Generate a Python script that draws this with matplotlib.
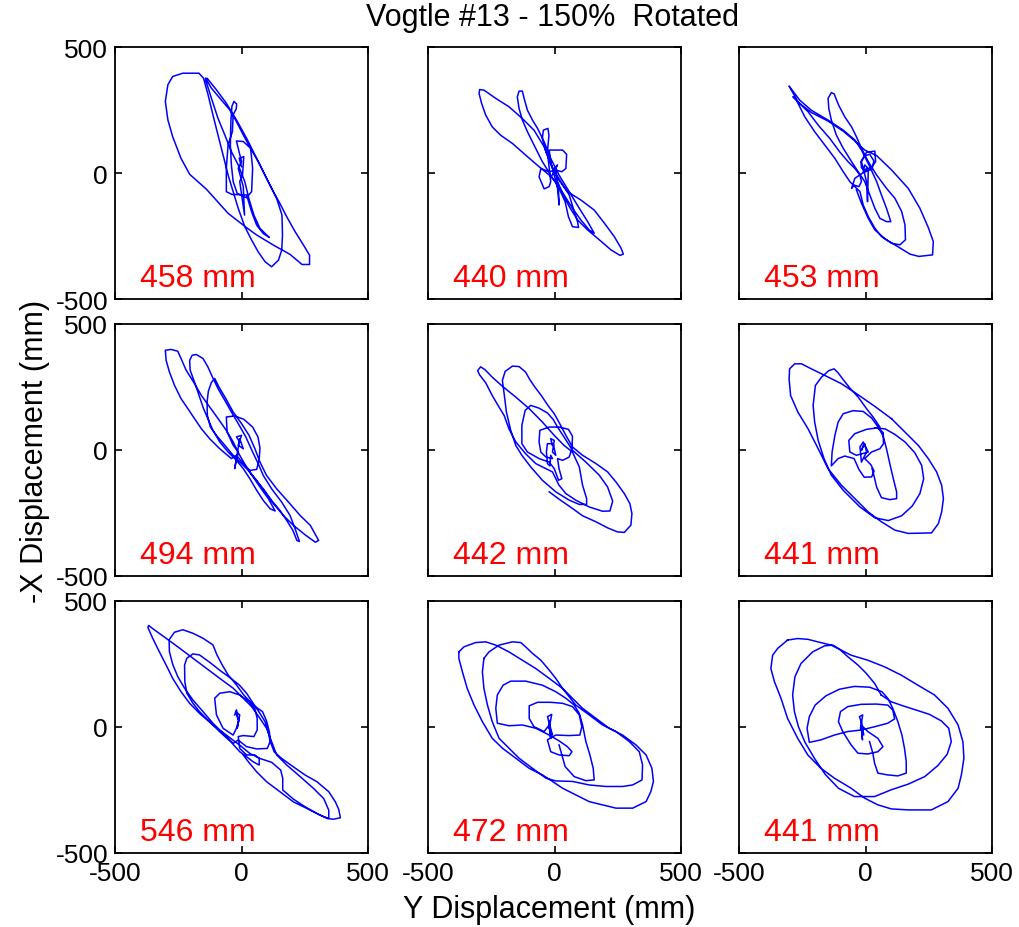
import numpy as np
import matplotlib.pyplot as plt

plt.rcParams['font.family'] = ['Liberation Sans', 'DejaVu Sans']
plt.rcParams['axes.unicode_minus'] = False

nan = float('nan')

# orbit traces, (Y, -X) displacement in mm; (nan, nan) lifts the pen
orbit1 = [(0, 25), (-9, 58), (9, 65), (4, -8), (-7, -34), (12, -167), (7, -54), (-13, 19), (0, 45),
          (-20, 127), (7, 125), (36, 98), (44, 19), (40, -74), (20, -98), (-17, -81), (-33, -34),
          (-40, 32), (-44, 111), (-42, 204), (-38, 264), (-30, 284), (-19, 274), (-21, 254),
          (-33, 231), (-36, 164), (-53, 111), (-60, 19), (-60, -74), (-38, -85), (20, -87),
          (40, -154), (60, -207), (86, -240), (110, -256), (73, -220), (49, -167), (29, -101),
          (13, -34), (-13, 32), (-40, 85), (-66, 151), (-93, 217), (-119, 297), (-142, 370),
          (-136, 376), (-99, 330), (-60, 277), (-20, 211), (20, 138), (60, 58), (99, -21),
          (139, -101), (160, -167), (162, -246), (159, -306), (146, -346), (119, -372), (93, -352),
          (66, -313), (40, -266), (13, -213), (-13, -140), (-33, -74), (-53, -8), (-73, 72),
          (-93, 151), (-113, 231), (-132, 310), (-150, 376), (-168, 396), (-232, 396), (-272, 383),
          (-291, 350), (-301, 284), (-291, 211), (-272, 144), (-239, 58), (-205, -5), (-139, -64),
          (-53, -160), (20, -217), (60, -246), (126, -286), (192, -323), (239, -363), (269, -363),
          (269, -326), (245, -286), (212, -233), (179, -174), (152, -121), (126, -74), (99, -21),
          (70, 38), (40, 91), (7, 151), (-20, 204), (-46, 250), (-80, 290), (-119, 337), (-142, 376)]

orbit2 = [(-1, 18), (12, 32), (-8, -8), (5, 25), (18, -127), (16, -74), (-1, -8), (-15, 45),
          (-21, 91), (32, 91), (48, 74), (45, 18), (29, 5), (5, 12), (-21, 5), (-54, 18), (-61, -15),
          (-41, -63), (-21, -54), (-15, -34), (-28, 84), (-22, 150), (-26, 177), (-44, 170),
          (-48, 137), (-34, 84), (-8, 18), (25, -34), (58, -87), (78, -153), (91, -193), (95, -216),
          (71, -213), (55, -173), (42, -114), (18, -61), (-15, -8), (-48, 45), (-81, 111),
          (-107, 164), (-127, 210), (-140, 256), (-147, 302), (-140, 325), (-127, 325), (-120, 296),
          (-107, 249), (-87, 210), (-67, 177), (-41, 124), (-15, 58), (18, -8), (58, -74),
          (98, -140), (131, -193), (157, -239), (137, -226), (104, -186), (71, -140), (38, -87),
          (5, -34), (-21, -8), (-61, 25), (-114, 71), (-166, 117), (-213, 150), (-246, 183),
          (-272, 230), (-288, 276), (-298, 315), (-296, 331), (-279, 329), (-232, 296), (-180, 263),
          (-127, 216), (-81, 170), (-41, 104), (-15, 38), (12, -21), (51, -74), (104, -107),
          (157, -147), (197, -199), (236, -252), (263, -298), (272, -322), (259, -327), (223, -305),
          (177, -265), (131, -226), (91, -186), (58, -133), (32, -81), (12, -34)]

orbit3 = [(4, 18), (-9, 5), (-3, 32), (11, 18), (8, -114), (4, -34), (-9, 18), (-16, 45), (-3, 69),
          (17, 74), (33, 48), (26, 16), (0, 5), (-16, 21), (-18, 45), (4, 82), (37, 87), (40, 45),
          (26, 25), (-42, -21), (-55, -61), (-45, -48), (-26, -54), (-16, -34), (-22, -8), (-42, 18),
          (-69, 45), (-102, 84), (-141, 137), (-187, 190), (-227, 243), (-267, 282), (-298, 338),
          (-302, 345), (-293, 333), (-260, 289), (-214, 249), (-148, 210), (-88, 170), (-42, 131),
          (-16, 91), (17, 25), (44, -34), (63, -87), (83, -140), (100, -193), (83, -193), (57, -180),
          (37, -140), (17, -87), (-3, -34), (-29, 5), (-55, 45), (-88, 98), (-115, 150), (-135, 210),
          (-145, 256), (-148, 296), (-135, 319), (-124, 314), (-106, 269), (-82, 223), (-55, 183),
          (-36, 144), (-16, 98), (11, 45), (44, -8), (83, -61), (116, -100), (143, -153), (156, -206),
          (158, -265), (136, -285), (103, -279), (63, -252), (37, -219), (11, -173), (-9, -127),
          (-22, -74), (-62, -34), (-88, 5), (-121, 58), (-161, 111), (-201, 164), (-240, 223),
          (-273, 289), (-286, 302), (-260, 276), (-214, 240), (-148, 206), (-88, 166), (-42, 127),
          (-3, 91), (44, 69), (103, 12), (169, -61), (215, -140), (248, -216), (268, -272),
          (265, -325), (211, -331), (176, -322), (129, -293), (77, -261), (37, -226), (11, -180),
          (-16, -120), (-36, -67)]

orbit4 = [(-7, 32), (-20, 52), (0, 58), (-13, 19), (7, 5), (-7, 45), (-27, -74), (-13, -8), (-33, 19),
          (-57, 72), (-60, 131), (-27, 135), (9, 122), (44, 91), (65, 52), (73, 8), (70, -37),
          (60, -77), (33, -81), (7, -54), (-20, -21), (-40, -34), (-86, 5), (-126, 45), (-159, 85),
          (-186, 125), (-212, 164), (-239, 204), (-265, 257), (-285, 310), (-298, 356), (-301, 396),
          (-278, 399), (-252, 392), (-239, 363), (-219, 317), (-186, 264), (-159, 217), (-126, 171),
          (-93, 125), (-60, 78), (-33, 32), (-7, -21), (20, -68), (46, -107), (73, -147), (106, -193),
          (133, -242), (113, -233), (86, -200), (60, -160), (33, -114), (7, -74), (-20, -41),
          (-53, -8), (-86, 32), (-113, 78), (-133, 125), (-150, 164), (-168, 217), (-186, 270),
          (-203, 317), (-205, 356), (-195, 376), (-179, 379), (-152, 363), (-133, 330), (-115, 290),
          (-93, 244), (-66, 197), (-40, 151), (-13, 105), (17, 52), (44, -8), (66, -54), (86, -101),
          (119, -154), (159, -207), (192, -260), (212, -313), (229, -363), (219, -359), (203, -319),
          (179, -280), (152, -240), (119, -200), (86, -154), (53, -114), (27, -81), (0, -54),
          (-33, -21), (-66, 19), (-99, 58), (-123, 91), (-135, 138), (-136, 191), (-131, 233),
          (-119, 268), (-106, 284), (-89, 250), (-62, 204), (-33, 151), (0, 105), (30, 58), (53, 5),
          (73, -48), (99, -101), (139, -154), (186, -207), (232, -260), (272, -299), (305, -359),
          (292, -366), (252, -337), (205, -299), (166, -260), (126, -213), (93, -167), (60, -121),
          (33, -87)]

orbit5 = [(-8, 18), (-15, 45), (-1, 38), (-8, -8), (5, -21), (-5, 25), (-28, 25), (-32, -8), (-28, -54),
          (-18, -63), (-15, -21), (-8, -34), (-34, -28), (-54, -8), (-61, 32), (-58, 78), (-21, 91),
          (18, 91), (55, 82), (71, 55), (69, 5), (58, -28), (32, -41), (12, -34), (18, -74), (29, -114),
          (16, -120), (-1, -74), (-21, -48), (-61, -34), (-107, -8), (-129, 25), (-129, 98),
          (-116, 157), (-94, 177), (-61, 166), (-28, 147), (-5, 121), (12, 91), (38, 51), (71, -1),
          (124, -48), (177, -100), (210, -147), (230, -203), (219, -242), (190, -243), (137, -226),
          (84, -199), (45, -173), (18, -140), (-8, -87), (-34, -74), (-74, -54), (-114, -15),
          (-153, 32), (-180, 84), (-199, 137), (-219, 170), (-246, 216), (-272, 267), (-296, 298),
          (-304, 315), (-292, 330), (-275, 319), (-246, 289), (-206, 253), (-153, 210), (-100, 164),
          (-48, 111), (-1, 58), (38, 18), (71, -8), (98, -67), (111, -140), (127, -193), (127, -216),
          (98, -216), (58, -199), (5, -166), (-48, -120), (-94, -67), (-129, -21), (-153, 18),
          (-173, 78), (-190, 150), (-199, 223), (-206, 276), (-195, 312), (-166, 333), (-140, 331),
          (-114, 309), (-98, 280), (-77, 249), (-50, 213), (-24, 174), (-1, 144), (21, 104), (45, 58),
          (71, 12), (111, -21), (164, -54), (210, -87), (243, -127), (276, -173), (298, -213),
          (306, -252), (302, -298), (276, -327), (249, -325), (210, -309), (164, -285), (111, -261),
          (71, -232), (18, -195), (-21, -166)]

orbit6 = [(-9, 18), (-16, -1), (-3, 25), (4, -8), (-16, -48), (-22, 12), (-9, 32), (11, -8), (-36, -21),
          (-62, -8), (-66, 38), (-42, 65), (4, 82), (48, 88), (70, 69), (71, 25), (57, 5), (24, -8),
          (-3, -34), (21, -58), (34, -84), (24, -107), (-5, -108), (-26, -77), (-45, -34), (-82, -24),
          (-108, -34), (-135, -63), (-132, -8), (-121, 58), (-108, 111), (-88, 144), (-49, 156),
          (-9, 153), (24, 127), (50, 91), (70, 55), (83, 5), (96, -54), (110, -114), (123, -166),
          (123, -193), (96, -197), (63, -189), (44, -147), (33, -100), (26, -74),
          (nan, nan),
          (57, 91), (30, 131), (4, 164), (-29, 210), (-62, 246), (-88, 279), (-108, 306), (-124, 322),
          (-145, 315), (-174, 289), (-198, 256), (-207, 177), (-201, 111), (-187, 38), (-164, -34),
          (-135, -100), (-88, -160), (-22, -226), (37, -269), (90, -280), (143, -261), (185, -222),
          (215, -173), (230, -114), (222, -61), (195, -11), (156, 32), (116, 62), (77, 84), (37, 87),
          (nan, nan),
          (103, 124), (37, 173), (-29, 219), (-95, 263), (-161, 296), (-214, 322), (-253, 342),
          (-280, 342), (-300, 322), (-302, 282), (-296, 216), (-267, 150), (-227, 84), (-187, 5),
          (-148, -74), (-95, -140), (-42, -193), (11, -246), (63, -285), (116, -318), (169, -331),
          (261, -329), (288, -292), (301, -246), (308, -193), (301, -140), (281, -87), (248, -34),
          (209, 18), (156, 71), (103, 124)]

orbit7 = [(-27, 48), (-20, 68), (-13, 28), (-23, 61), (-7, 48), (-17, -5), (-9, 34), (-20, -5),
          (-33, -32), (-73, -5), (-99, 48), (-106, 114), (-86, 134), (-46, 140), (-7, 127), (30, 101),
          (53, 72), (62, 34), (62, -12), (49, -38), (7, -34), (-13, -38), (-7, -85), (20, -111),
          (53, -111), (70, -125), (70, -151), (46, -138), (20, -118), (-7, -98), (-40, -61),
          (-86, -19), (-126, 21), (-166, 61), (-192, 94), (-216, 134), (-224, 180), (-225, 246),
          (-216, 273), (-192, 290), (-166, 286), (-126, 257), (-83, 223), (-46, 196), (-9, 167),
          (20, 134), (46, 94), (73, 54), (93, 21), (106, -19), (113, -58), (102, -85), (60, -87),
          (20, -78), (-13, -52), (-33, -65), (-73, -25), (-113, 15), (-152, 61), (-192, 107),
          (-225, 154), (-252, 200), (-272, 249), (-285, 299), (-286, 346), (-265, 376), (-232, 386),
          (-192, 372), (-152, 352), (-113, 326), (-97, 286), (-76, 246), (-53, 207), (-20, 167),
          (9, 127), (46, 87), (83, 61), (99, 24), (110, -19), (115, -61), (129, -98), (159, -125),
          (205, -158), (252, -191), (298, -217), (345, -257), (371, -297), (384, -326), (391, -360),
          (364, -366), (338, -363), (298, -343), (252, -317), (205, -286), (163, -250), (163, -204),
          (155, -171), (119, -140), (73, -125), (33, -105), (-7, -72), (-60, -32), (-113, 8),
          (-166, 54), (-205, 94), (-239, 140), (-272, 193), (-298, 246), (-325, 299), (-351, 352),
          (-370, 395), (-367, 403), (-345, 386), (-298, 352), (-245, 313), (-192, 273), (-139, 233),
          (-86, 193), (-33, 154), (7, 114), (40, 81), (73, 34), (99, -5), (119, -58), (139, -111),
          (179, -151), (232, -197), (285, -244), (325, -284), (345, -330), (345, -363), (311, -350),
          (258, -323), (205, -297), (152, -257), (99, -217), (60, -178), (27, -138), (7, -111)]

orbit8 = [(-21, 21), (-28, 41), (-11, 50), (-21, -5), (-8, -32), (-24, 28), (-15, -45), (-21, 8),
          (-41, -18), (-81, 1), (-100, 34), (-100, 84), (-67, 98), (-15, 98), (32, 94), (71, 81),
          (98, 48), (108, 1), (100, -32), (58, -34), (5, -32), (-28, -51), (-15, -98), (18, -111),
          (58, -114), (69, -98), (51, -78), (18, -55), (-21, -32), (-74, -5), (-127, 8), (-180, 5),
          (-226, 15), (-232, 74), (-226, 127), (-203, 166), (-173, 182), (-114, 182), (-48, 166),
          (5, 140), (45, 114), (78, 87), (98, 54), (111, 8), (124, -58), (140, -111), (153, -164),
          (157, -210), (124, -213), (78, -197), (42, -157), (29, -111), (18, -71),
          (nan, nan),
          (-279, 272), (-259, 298), (-219, 325), (-166, 338), (-133, 335), (-114, 318), (-87, 292),
          (-54, 265), (-21, 226), (5, 193), (32, 153), (58, 120), (84, 87), (137, 48), (190, 8),
          (243, -18), (296, -58), (335, -98), (348, -150), (346, -210), (309, -230), (269, -236),
          (203, -236), (137, -230), (71, -216), (5, -214), (-34, -203), (-87, -164), (-140, -124),
          (-180, -84), (-219, -45), (-246, 21), (-265, 87), (-279, 153), (-285, 219), (-279, 272),
          (nan, nan),
          (-378, 298), (-358, 318), (-312, 335), (-272, 338), (-232, 325), (-180, 298), (-127, 265),
          (-74, 232), (-21, 193), (32, 153), (71, 114), (111, 74), (164, 34), (216, -5), (269, -32),
          (322, -71), (362, -111), (385, -164), (391, -216), (381, -256), (362, -296), (309, -322),
          (243, -322), (190, -309), (137, -296), (84, -269), (32, -243), (-8, -216), (-48, -190),
          (-100, -164), (-153, -124), (-206, -84), (-246, -45), (-285, 21), (-318, 87), (-345, 153),
          (-364, 219), (-378, 272), (-378, 298)]

orbit9 = [(-17, 21), (-24, 41), (-11, 48), (-20, -5), (-7, -32), (-17, 28), (-12, -51), (-17, 8),
          (9, -18), (49, -45), (69, -78), (49, -98), (9, -107), (-30, -104), (-57, -71), (-90, -18),
          (-107, 21), (-99, 61), (-70, 81), (-17, 90), (42, 91), (88, 87), (108, 67), (115, 32),
          (88, 15), (36, 1), (-17, -12), (-70, -18), (-123, -32), (-176, -51), (-222, -61),
          (-231, -5), (-222, 41), (-199, 87), (-156, 124), (-103, 150), (-44, 161), (16, 158),
          (65, 140), (88, 114), (108, 74), (128, 21), (144, -32), (154, -84), (161, -137),
          (161, -183), (128, -194), (86, -190), (49, -183), (36, -144), (29, -104), (16, -58),
          (nan, nan),
          (62, 127), (36, 173), (3, 213), (-30, 246), (-70, 279), (-103, 309), (-129, 325),
          (-162, 322), (-209, 298), (-255, 252), (-279, 199), (-288, 127), (-281, 61), (-265, 1),
          (-239, -61), (-202, -124), (-160, -187), (-107, -243), (-44, -276), (36, -276), (102, -249),
          (168, -227), (234, -197), (286, -153), (323, -108), (339, -58), (329, -5), (300, 24),
          (253, 50), (201, 67), (148, 84), (102, 100), (62, 127),
          (nan, nan),
          (-308, 345), (-268, 351), (-228, 348), (-189, 338), (-136, 325), (-96, 305), (-57, 285),
          (9, 265), (75, 239), (141, 206), (207, 166), (273, 127), (326, 74), (366, 8), (385, -58),
          (389, -124), (379, -190), (366, -243), (326, -296), (260, -329), (168, -329), (102, -325),
          (49, -309), (-4, -282), (-57, -243), (-123, -203), (-176, -164), (-228, -111), (-268, -45),
          (-308, 34), (-334, 114), (-360, 180), (-374, 232), (-367, 285), (-347, 312), (-308, 345)]

orbits = [orbit1, orbit2, orbit3, orbit4, orbit5, orbit6, orbit7, orbit8, orbit9]
peak_mm = [458, 440, 453, 494, 442, 441, 546, 472, 441]
ticks = [-500, 0, 500]

W, H = 1019, 928
fig = plt.figure(figsize=(W / 100, H / 100), dpi=100)

col_left = [115, 428, 739]
row_top = [48, 325, 602]
aw, ah = 253, 252

for i, (orbit, peak) in enumerate(zip(orbits, peak_mm)):
    r, c = divmod(i, 3)
    ax = fig.add_axes([col_left[c] / W, 1 - (row_top[r] + ah) / H, aw / W, ah / H])
    pts = np.array(orbit, dtype=float)
    ax.plot(pts[:, 0], pts[:, 1], color='#0000ff', lw=1.1)
    ax.text(-400, -450, f'{peak} mm', color='red', fontsize=23)
    ax.set_xlim(-500, 500)
    ax.set_ylim(-500, 500)
    ax.set_xticks(ticks)
    ax.set_yticks(ticks)
    ax.tick_params(direction='in', top=True, right=True, length=5, width=1.2, labelsize=19)
    ax.tick_params(axis='x', pad=6)
    ax.tick_params(axis='y', pad=5)
    if c > 0:
        ax.set_yticklabels([])
    if r < 2:
        ax.set_xticklabels([])
    for s in ax.spines.values():
        s.set_linewidth(1.3)

fig.text(552 / W, 1 - 18 / H, 'Vogtle #13 - 150%  Rotated', ha='center', va='center', fontsize=22)
fig.text(549 / W, 1 - 910 / H, 'Y Displacement (mm)', ha='center', va='center', fontsize=22)
fig.text(35 / W, 1 - 451 / H, '-X Displacement (mm)', ha='center', va='center',
         rotation=90, fontsize=22)

fig.savefig('out.png', dpi=100)
